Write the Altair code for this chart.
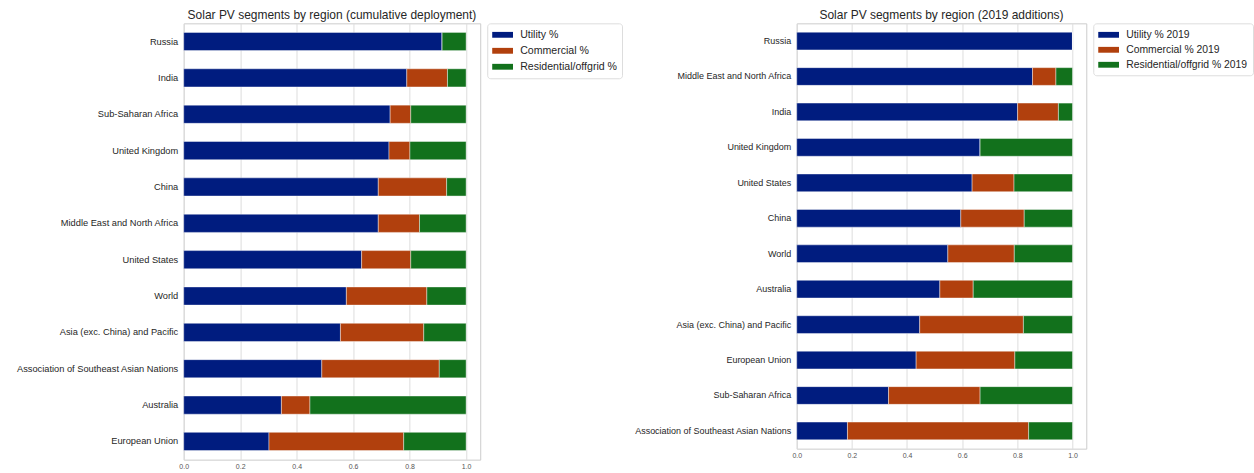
import altair as alt
import pandas as pd

# ---- data: cumulative deployment ----
regions_cum = ["Russia", "India", "Sub-Saharan Africa", "United Kingdom", "China",
               "Middle East and North Africa", "United States", "World",
               "Asia (exc. China) and Pacific", "Association of Southeast Asian Nations",
               "Australia", "European Union"]
utility_cum = [0.915, 0.790, 0.731, 0.727, 0.689, 0.689, 0.630, 0.576, 0.555, 0.489, 0.346, 0.302]
commercial_cum = [0.000, 0.144, 0.073, 0.074, 0.242, 0.146, 0.174, 0.285, 0.295, 0.416, 0.101, 0.477]
residential_cum = [0.085, 0.066, 0.196, 0.199, 0.069, 0.165, 0.196, 0.139, 0.150, 0.095, 0.553, 0.221]
names_cum = ["Utility %", "Commercial %", "Residential/offgrid %"]

# ---- data: 2019 additions ----
regions_19 = ["Russia", "Middle East and North Africa", "India", "United Kingdom", "United States",
              "China", "World", "Australia", "Asia (exc. China) and Pacific", "European Union",
              "Sub-Saharan Africa", "Association of Southeast Asian Nations"]
utility_19 = [1.000, 0.855, 0.801, 0.665, 0.636, 0.595, 0.548, 0.519, 0.446, 0.433, 0.333, 0.184]
commercial_19 = [0.000, 0.085, 0.148, 0.000, 0.152, 0.230, 0.241, 0.121, 0.376, 0.358, 0.332, 0.657]
residential_19 = [0.000, 0.060, 0.051, 0.335, 0.212, 0.175, 0.211, 0.360, 0.178, 0.209, 0.335, 0.159]
names_19 = ["Utility % 2019", "Commercial % 2019", "Residential/offgrid % 2019"]

colors = ["#001c7f", "#b1400d", "#12711c"]
ticks = [0.0, 0.2, 0.4, 0.6, 0.8, 1.0]
FONT = "Liberation Sans"


def panel(regions, series, names, title, width, height, label_size, title_size, legend_size):
    rows = []
    for i, reg in enumerate(regions):
        for k, name in enumerate(names):
            rows.append({"region": reg, "segment": name, "value": series[k][i], "order": k})
    df = pd.DataFrame(rows)
    return alt.Chart(
        df,
        title=alt.TitleParams(title, anchor="middle", fontSize=title_size, font=FONT,
                              fontWeight="normal", color="#262626", offset=1),
    ).mark_bar(stroke="white", strokeWidth=0.6, strokeOpacity=0.7).encode(
        x=alt.X("value:Q", stack="zero",
                scale=alt.Scale(domain=[0, 1.05], nice=False, zero=True),
                axis=alt.Axis(values=ticks, format=".1f", title=None, ticks=False,
                              domain=False, labelFontSize=7, labelColor="#555555",
                              labelPadding=3, labelFlush=False, gridColor="#dddddd",
                              labelFont=FONT)),
        y=alt.Y("region:N", sort=regions,
                scale=alt.Scale(paddingInner=0.5, paddingOuter=0.25),
                axis=alt.Axis(title=None, ticks=False, domain=False, grid=False,
                              labelPadding=6, labelFontSize=label_size,
                              labelColor="#262626", labelFont=FONT, labelLimit=300)),
        color=alt.Color("segment:N", sort=names,
                        scale=alt.Scale(domain=names, range=colors),
                        legend=alt.Legend(title=None, orient="right", offset=7,
                                          padding=5, strokeColor="#dddddd",
                                          cornerRadius=3, fillColor="white",
                                          labelFontSize=legend_size, labelFont=FONT,
                                          labelColor="#262626",
                                          symbolType="M-1,-0.45H2.2V0.45H-1Z",
                                          symbolSize=169, symbolStrokeWidth=0,
                                          symbolOpacity=1, rowPadding=3,
                                          labelOffset=15)),
        order=alt.Order("order:Q"),
    ).properties(width=width, height=height)


left = panel(regions_cum, [utility_cum, commercial_cum, residential_cum], names_cum,
             "Solar PV segments by region (cumulative deployment)", 297, 437, 9.3, 12.0, 10.6)
right = panel(regions_19, [utility_19, commercial_19, residential_19], names_19,
              "Solar PV segments by region (2019 additions)", 290, 426, 9.0, 12.0, 10.4)

chart = alt.hconcat(left, right, spacing=10).resolve_scale(
    color="independent", y="independent"
).properties(
    padding={"left": 15, "top": 8, "right": 0, "bottom": 0},
    background="white",
).configure_view(stroke="#cccccc", strokeWidth=1)

chart.save("out.html", embed_options={"renderer": "svg", "actions": False})
